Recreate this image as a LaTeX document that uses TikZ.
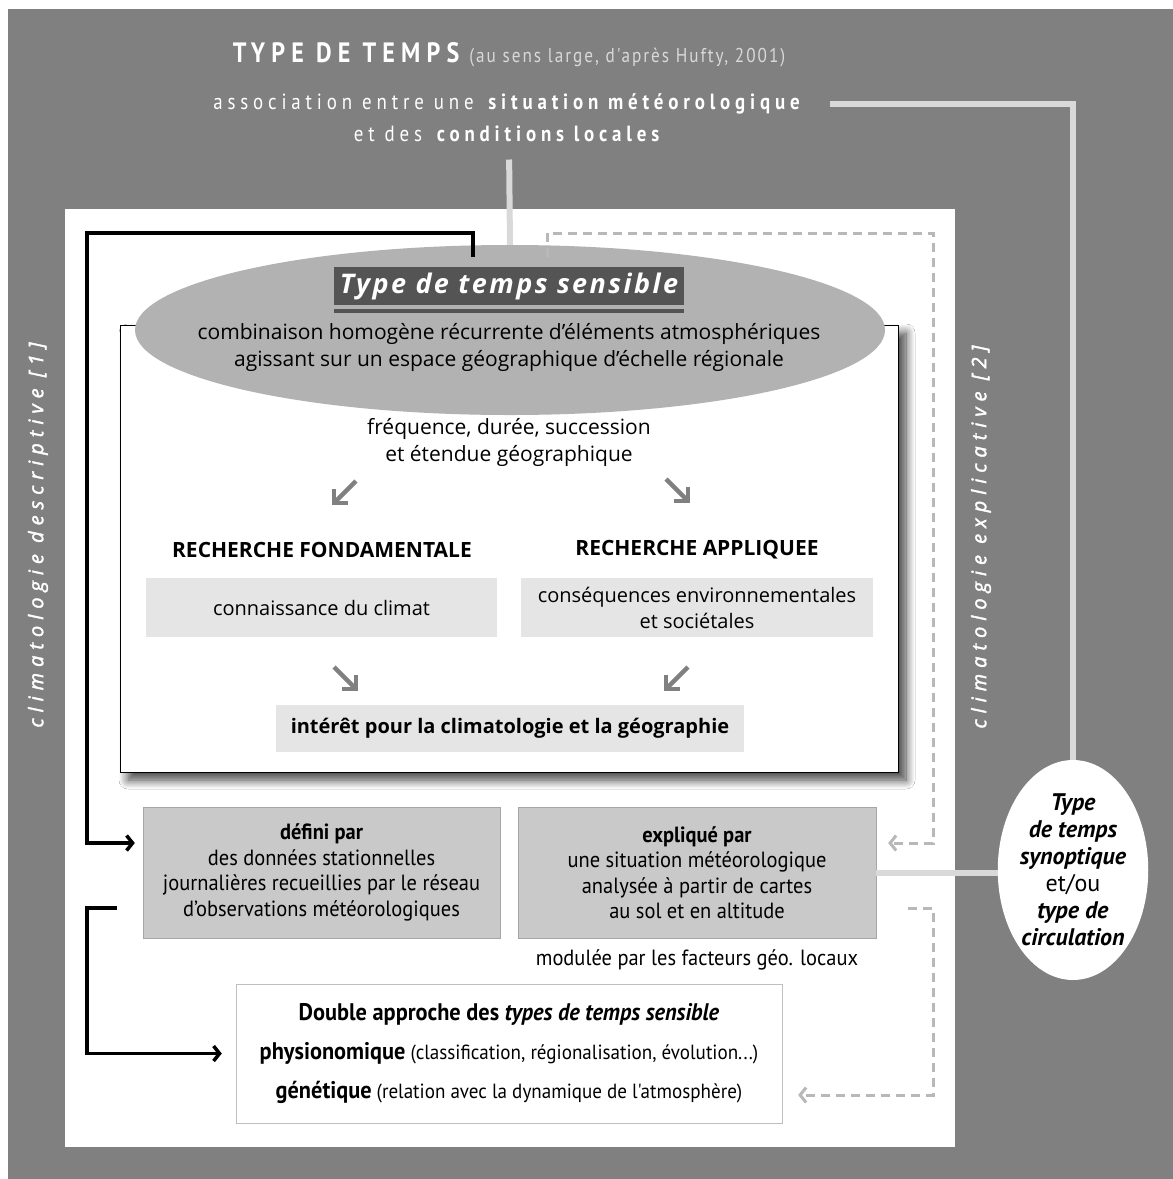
\documentclass[tikz,border=0pt]{standalone}
\usepackage{fontspec}
\setmainfont{Open Sans}
\newfontfamily\ptsans{PT Sans}
\newfontfamily\narrow[FakeStretch=0.93]{PT Sans}
\newfontfamily\headfont[FakeStretch=0.86,LetterSpace=22]{PT Sans}
\newfontfamily\sidefont[LetterSpace=30,FakeBold=2]{Open Sans}
\newfontfamily\ttlfont[LetterSpace=9]{Open Sans}
\usepackage{tikz}
\usetikzlibrary{positioning,shapes.geometric,shadows,shadows.blur,arrows.meta,calc}
\definecolor{bggray}{gray}{0.5}
\definecolor{ellgray}{gray}{0.70}
\definecolor{titlegray}{gray}{0.33}
\definecolor{boxgray}{gray}{0.79}
\definecolor{lightbox}{gray}{0.90}
\definecolor{linkgray}{gray}{0.85}
\definecolor{dashgray}{gray}{0.72}
\tikzstyle{gb}=[%
      rectangle, draw=gray!70, thin, fill=boxgray, align=center,
      minimum width=357pt, minimum height=131pt, inner sep=4pt,
      font=\narrow\fontsize{22}{25.5}\selectfont
]
\tikzstyle{lb}=[%
      rectangle, fill=lightbox, align=center,
      minimum height=59pt, inner sep=4pt,
      font=\fontsize{20}{26}\selectfont
]
\tikzstyle{wb}=[%
      rectangle, draw=gray!50, thin, fill=white,
      minimum width=546pt, minimum height=139pt
]

\begin{document}
\begin{tikzpicture}[x=1pt, y=-1pt,
    txt/.style={align=center, font=\fontsize{21}{27}\selectfont},
    head/.style={font=\bfseries\fontsize{21}{24}\selectfont},
    side/.style={text=white, font=\sidefont\itshape\fontsize{20}{24}\selectfont},
    desc/.style={line width=3.5pt, -{Straight Barb[length=6pt,width=15pt]}},
    expl/.style={line width=3pt, dashgray, dash pattern=on 9pt off 6pt,
      -{Straight Barb[length=6pt,width=15pt]}},
    link/.style={line width=6pt, linkgray},
    ptr/.style={line width=4.5pt, gray, line join=miter},
    pointer/.pic={\draw[ptr] (11,-11) -- (-9,9);
                  \draw[ptr] (-11,-3) -- (-11,11) -- (3,11);},
]
  \useasboundingbox (0,0) rectangle (1173,1179);
  \fill[bggray] (8,9) rectangle (1173,1179);
  \fill[white] (65,209) rectangle (955,1147);

  % en-tete
  \node[text=white] (title) at (509,55)
    {{\headfont\bfseries\fontsize{28}{32}\selectfont TYPE DE TEMPS}\hspace{10pt}%
     {\headfont\addfontfeatures{LetterSpace=10}\fontsize{20}{24}\selectfont\color{white!85!black}(au sens large, d'après Hufty, 2001)}};
  \node[text=white, font=\headfont\fontsize{22}{26}\selectfont] (assocA) at (509,104)
    {association entre une \textbf{situation météorologique}};
  \node[text=white, font=\headfont\fontsize{22}{26}\selectfont] (assocB) at (509,134)
    {et des \textbf{conditions locales}};

  % textes lateraux
  \node[side, rotate=90] (descr) at (38,535) {climatologie descriptive [1]};
  \node[side, rotate=90] (expli) at (981,537) {climatologie explicative [2]};

  % cadre central
  \node[rectangle, draw=black, thin, fill=white, minimum width=778pt, minimum height=447pt,
        blur shadow={shadow xshift=8pt, shadow yshift=-8pt, shadow blur radius=9pt,
        shadow blur steps=12, shadow opacity=75}] (frame) at (509,548.5) {};
  \node[ellipse, fill=ellgray, minimum width=750pt, minimum height=170pt] (sens) at (510,330) {};
  \node[fill=titlegray, text=white, minimum width=350pt, minimum height=38pt, inner sep=0pt,
        font=\ttlfont\bfseries\itshape\fontsize{27}{30}\selectfont] (senstitle) at (509,286) {Type de temps sensible};
  \draw[titlegray, line width=4pt] ([yshift=-6pt]senstitle.south west) -- ([yshift=-6pt]senstitle.south east);
  \node[txt] (sensdesc) at (509,347)
    {combinaison homogène récurrente d'éléments atmosphériques\\agissant sur un espace géographique d'échelle régionale};
  \node[txt] (freq) at (509,442) {fréquence, durée, succession\\et étendue géographique};

  \pic at (345,492) {pointer};
  \pic[xscale=-1] at (677,490) {pointer};
  \pic[xscale=-1] at (345,678) {pointer};
  \pic at (677,678) {pointer};

  \node[head] (rfond) at (322,550) {RECHERCHE FONDAMENTALE};
  \node[head] (rappl) at (697,550) {RECHERCHE APPLIQUEE};
  \node[lb, minimum width=351pt] (connais) at (321.5,607.5) {connaissance du climat};
  \node[lb, minimum width=352pt] (conseq) at (697,607.5) {conséquences environnementales\\et sociétales};
  \node[lb, minimum width=468pt, minimum height=47pt, font=\bfseries\fontsize{20}{24}\selectfont]
    (interet) at (510,728.5) {intérêt pour la climatologie et la géographie};

  % definition et explication
  \node[gb] (defini) at (321.5,872.5)
    {\textbf{défini par}\\des données stationnelles\\journalières recueillies par le réseau\\d’observations météorologiques};
  \node[gb, minimum width=358pt] (explique) at (697,872.5)
    {\textbf{expliqué par}\\une situation météorologique\\analysée à partir de cartes\\au sol et en altitude};
  \node[font=\narrow\fontsize{22}{26}\selectfont] (modul) at (697,960) {modulée par les facteurs géo. locaux};

  \node[wb] (double) at (509,1053.5) {};
  \node[font=\narrow\bfseries\fontsize{24}{28}\selectfont] (dbla) at ([yshift=39.5pt]double.center)
    {Double approche des \textit{types de temps sensible}};
  \node[font=\narrow\fontsize{20.5}{28}\selectfont] (dblb) at (double.center)
    {{\fontsize{24}{28}\selectfont\bfseries physionomique} (classification, régionalisation, évolution...)};
  \node[font=\narrow\fontsize{20.5}{28}\selectfont] (dblc) at ([yshift=-39pt]double.center)
    {{\fontsize{24}{28}\selectfont\bfseries génétique} (relation avec la dynamique de l'atmosphère)};

  % type synoptique
  \node[ellipse, fill=white, minimum width=126pt, minimum height=220pt, inner sep=0pt, align=center,
        font=\ptsans\fontsize{24}{27}\selectfont] (synop) at (1073,870)
    {\textbf{\textit{Type}}\\\textbf{\textit{de temps}}\\\textbf{\textit{synoptique}}\\et/ou\\\textbf{\textit{type de}}\\\textbf{\textit{circulation}}};

  % liaisons
  \draw[link, shorten <=14pt] (assocB.south) -- (sens.north);
  \draw[link] ([xshift=22pt]assocA.east) -| (synop.north);
  \draw[link] (explique.east) -- (explique.east -| synop.west);

  \coordinate (dtop) at (473,257);
  \coordinate (dlow) at (117,908);
  \coordinate (etop) at (547,257);
  \coordinate (elow) at (908,908);
  \draw[desc, shorten >=8pt] (dtop) |- (87,233) |- ([yshift=29.5pt]defini.west);
  \draw[desc, shorten >=14pt] (dlow) -- (87,908) |- (double.west);
  \draw[expl, shorten >=12pt] (etop) |- (933,233) |- ([yshift=29.5pt]explique.east);
  \draw[expl, shorten >=16pt] (elow) -- (933,908) |- ([yshift=-41.5pt]double.east);
\end{tikzpicture}
\end{document}
